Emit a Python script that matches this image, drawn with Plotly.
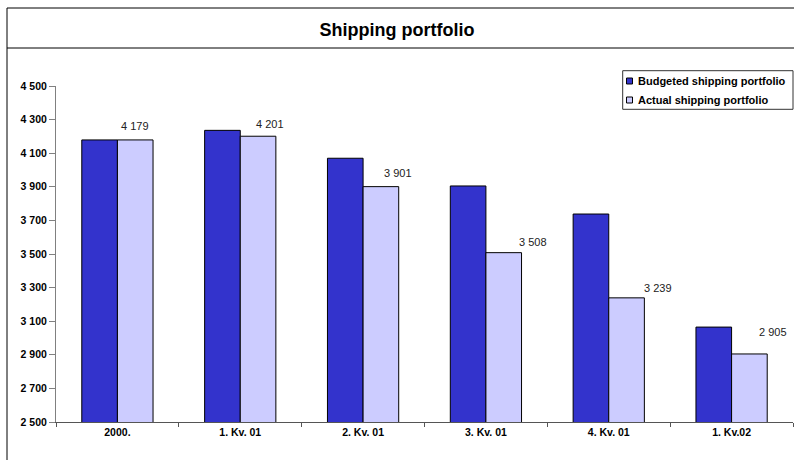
import plotly.graph_objects as go

# Quarterly shipping portfolio: budget vs. actual
categories = ["2000.", "1. Kv. 01", "2. Kv. 01", "3. Kv. 01", "4. Kv. 01", "1. Kv.02"]
budgeted = [4179, 4236, 4070, 3905, 3738, 3065]
actual = [4179, 4201, 3901, 3508, 3239, 2905]
series_names = ["Budgeted shipping portfolio", "Actual shipping portfolio"]
series_colors = ["#3333CC", "#CCCCFF"]
y_ticks = list(range(2500, 4501, 200))

# value-label offsets (pixels) relative to each category centre / bar top
label_dx = [17.7, 29.3, 34.7, 46.7, 49, 41]
label_dy = [14.3, 12.3, 13.6, 10.6, 10.3, 22.3]

FONT = "Arial, 'Liberation Sans', sans-serif"
W, H = 794, 460
ML, MR, MT, MB = 56, 1, 86, 38
PW, PH = W - ML - MR, H - MT - MB


def px(x):
    return (x - ML) / PW


def py(y):
    return (H - MB - y) / PH


fig = go.Figure()
for name, vals, col in zip(series_names, [budgeted, actual], series_colors):
    fig.add_trace(go.Bar(
        x=categories, y=vals, name=name,
        marker=dict(color=col, line=dict(color="#000000", width=1)),
        showlegend=False, hoverinfo="x+y+name",
    ))

annotations = []
for i, (v, dx, dy) in enumerate(zip(actual, label_dx, label_dy)):
    annotations.append(dict(
        x=i, y=v, xref="x", yref="y", text=f"{v:,}".replace(",", " "),
        showarrow=False, xanchor="center", yanchor="middle",
        xshift=dx, yshift=dy, font=dict(family=FONT, size=11, color="#222222"),
    ))

shapes = []
# outer frame (top and left edges) and title separator
shapes.append(dict(type="path", xref="paper", yref="paper",
                   path=f"M {px(7)} {py(470)} L {px(7)} {py(8)} L {px(800)} {py(8)}",
                   line=dict(color="#000000", width=1)))
shapes.append(dict(type="line", xref="paper", yref="paper",
                   x0=px(7), x1=px(800), y0=py(48), y1=py(48),
                   line=dict(color="#000000", width=1)))

# legend box
lx0, lx1, ly0, ly1 = 622.7, 793, 70.7, 109.3
shapes.append(dict(type="rect", xref="paper", yref="paper",
                   x0=px(lx0), x1=px(lx1), y0=py(ly0), y1=py(ly1),
                   line=dict(color="#333333", width=1), fillcolor="#FFFFFF"))
for i, (name, col) in enumerate(zip(series_names, series_colors)):
    cy = 81 + i * 19
    shapes.append(dict(type="rect", xref="paper", yref="paper",
                       x0=px(626.5), x1=px(632.5), y0=py(cy - 3), y1=py(cy + 3),
                       line=dict(color="#000000", width=1), fillcolor=col))
    annotations.append(dict(
        x=px(636), y=py(cy), xref="paper", yref="paper", text=f"<b>{name}</b>",
        showarrow=False, xanchor="left", yanchor="middle",
        font=dict(family=FONT, size=11, color="#000000"),
    ))

fig.update_layout(
    width=W, height=H,
    margin=dict(l=ML, r=MR, t=MT, b=MB),
    paper_bgcolor="#FFFFFF", plot_bgcolor="#FFFFFF",
    separators=". ",
    barmode="group", bargap=0.42, bargroupgap=0,
    title=dict(text="<b>Shipping portfolio</b>", x=0.5, xref="container",
               y=1 - 30 / H, yref="container", xanchor="center", yanchor="middle",
               font=dict(family=FONT, size=18, color="#000000")),
    xaxis=dict(type="category", range=[-0.5, len(categories) - 0.5], showgrid=False,
               showline=True, linecolor="#555555", linewidth=1,
               ticks="outside", ticklen=4, tickcolor="#555555", tickson="boundaries",
               tickfont=dict(family=FONT, size=10.5, color="#000000", weight="bold"),
               fixedrange=True),
    yaxis=dict(range=[2500, 4500], tickvals=y_ticks, tickformat=",d",
               showgrid=False, zeroline=False,
               showline=True, linecolor="#808080", linewidth=1,
               ticks="outside", ticklen=6, tickcolor="#808080",
               tickfont=dict(family=FONT, size=10.5, color="#000000", weight="bold"),
               fixedrange=True),
    annotations=annotations,
    shapes=shapes,
)

fig.write_html("out.html")
